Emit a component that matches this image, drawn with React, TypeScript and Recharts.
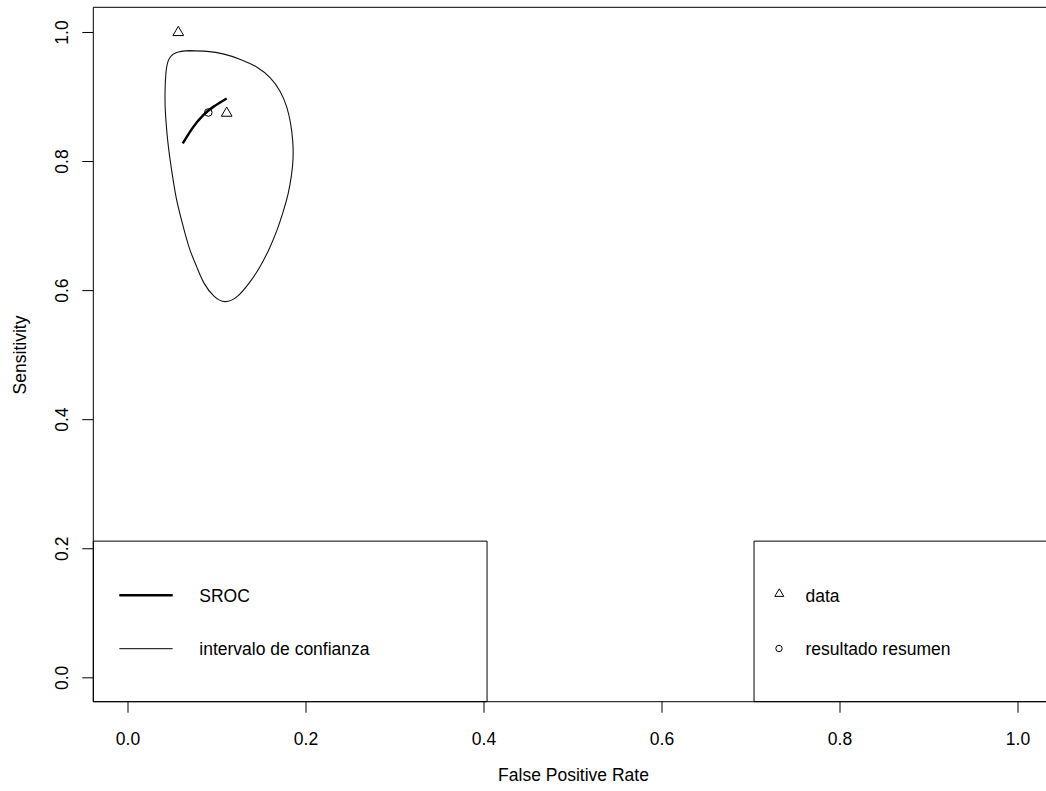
import React from 'react'
import { ScatterChart, Scatter, XAxis, YAxis, ReferenceArea } from 'recharts';

// values
const xTicks = [0, 0.2, 0.4, 0.6, 0.8, 1.0]
const yTicks = [0, 0.2, 0.4, 0.6, 0.8, 1.0]

const studyFpr = [0.0565, 0.1109]
const studySens = [1.0, 0.875]

const summaryFpr = [0.0902]
const summarySens = [0.876]

const srocFpr = [0.0615, 0.0734, 0.0846, 0.0958, 0.1109]
const srocSens = [0.828, 0.8537, 0.8719, 0.8847, 0.8977]

// confidence region contour, traced clockwise from the top
const ellipseFpr = [
    0.0697, 0.0888, 0.1079, 0.127, 0.1449, 0.1596, 0.1708, 0.1783, 0.1826, 0.1851,
    0.1854, 0.1835, 0.1798, 0.1742, 0.1674, 0.159, 0.1483, 0.136, 0.1225, 0.109,
    0.0966, 0.0854, 0.0772, 0.0697, 0.064, 0.059, 0.0547, 0.0511, 0.048, 0.0453,
    0.0433, 0.0419, 0.0416, 0.0425, 0.0455, 0.0539, 0.0697,
]
const ellipseSens = [
    0.9718, 0.9707, 0.9664, 0.9579, 0.9462, 0.93, 0.909, 0.8847, 0.8595, 0.8316,
    0.8037, 0.7773, 0.7495, 0.7216, 0.6937, 0.6658, 0.6371, 0.6116, 0.5906, 0.5829,
    0.5914, 0.6116, 0.6368, 0.6627, 0.689, 0.7154, 0.7401, 0.768, 0.7959, 0.8238,
    0.8517, 0.8796, 0.9075, 0.9354, 0.9571, 0.9687, 0.9718,
]

const toPoints = (xs: number[], ys: number[]) => xs.map((x, i) => ({ x, y: ys[i] }))

const studies = toPoints(studyFpr, studySens)
const summary = toPoints(summaryFpr, summarySens)
const sroc = toPoints(srocFpr, srocSens)
const ellipse = toPoints(ellipseFpr, ellipseSens)

const FONT = '"Liberation Sans", Arial, Helvetica, sans-serif'
const FS = 17.5

const Triangle = (props: any) => {
    const { cx, cy } = props
    return (
        <polygon
            points={`${cx},${cy - 6.2} ${cx + 5.35},${cy + 3.1} ${cx - 5.35},${cy + 3.1}`}
            fill='none' stroke='#000' strokeWidth={1}
        />
    )
}

const Ring = (props: any) => (
    <circle cx={props.cx} cy={props.cy} r={3.8} fill='none' stroke='#000' strokeWidth={1} />
)

const NoDot = () => <g />

const XTick = (props: any) => (
    <text x={props.x} y={props.y} dy='0.71em' textAnchor='middle' fontSize={FS} fontFamily={FONT} fill='#000'>
        {Number(props.payload.value).toFixed(1)}
    </text>
)

const YTick = (props: any) => (
    <text transform={`translate(${props.x},${props.y}) rotate(-90)`} textAnchor='middle' fontSize={FS} fontFamily={FONT} fill='#000'>
        {Number(props.payload.value).toFixed(1)}
    </text>
)

export default function App() {
    return (
        <div style={{ position: 'absolute', left: 0, top: 0, width: 1046, height: 791, overflow: 'hidden', background: '#fff' }}>
            <ScatterChart width={1060} height={791} margin={{ top: 7.3, right: 6.4, bottom: 0, left: 0 }}>
                <XAxis
                    type='number' dataKey='x' domain={[-0.039, 1.04]} ticks={xTicks} allowDataOverflow
                    height={89.3} axisLine={false} tickSize={11} tickMargin={20}
                    tickLine={{ stroke: '#000' }} tick={<XTick />} interval={0}
                />
                <YAxis
                    type='number' dataKey='y' domain={[-0.037, 1.039]} ticks={yTicks} allowDataOverflow
                    width={93.3} axisLine={false} tickSize={11} tickMargin={14.3}
                    tickLine={{ stroke: '#000' }} tick={<YTick />} interval={0}
                />
                <ReferenceArea x1={-0.039} x2={1.04} y1={-0.037} y2={1.039} fill='none' stroke='#000' strokeWidth={1} fillOpacity={0} />
                <ReferenceArea x1={-0.039} x2={0.4034} y1={-0.037} y2={0.2118} fill='#fff' fillOpacity={0} stroke='#000' strokeWidth={1} />
                <ReferenceArea x1={0.7034} x2={1.04} y1={-0.037} y2={0.2118} fill='#fff' fillOpacity={0} stroke='#000' strokeWidth={1} />
                <Scatter data={ellipse} shape={NoDot} line={{ stroke: '#111', strokeWidth: 1.1 }} lineJointType='natural' isAnimationActive={false} />
                <Scatter data={sroc} shape={NoDot} line={{ stroke: '#000', strokeWidth: 2.5 }} lineJointType='natural' isAnimationActive={false} />
                <Scatter data={studies} shape={<Triangle />} isAnimationActive={false} />
                <Scatter data={summary} shape={<Ring />} isAnimationActive={false} />
            </ScatterChart>
            <svg width={1046} height={791} style={{ position: 'absolute', left: 0, top: 0, pointerEvents: 'none' }} fontFamily={FONT} fontSize={FS} fill='#000'>
                <text x={573.5} y={781} textAnchor='middle'>False Positive Rate</text>
                <text transform='translate(26,355) rotate(-90)' textAnchor='middle'>Sensitivity</text>

                <line x1={119.3} x2={172.7} y1={595.3} y2={595.3} stroke='#000' strokeWidth={2.5} />
                <text x={199.3} y={601.7}>SROC</text>
                <line x1={119.3} x2={172.7} y1={648.7} y2={648.7} stroke='#000' strokeWidth={1} />
                <text x={199.3} y={654.8}>intervalo de confianza</text>

                <polygon points='779.3,588.8 783.8,596.4 774.8,596.4' fill='none' stroke='#000' strokeWidth={1} />
                <text x={805.5} y={601.7}>data</text>
                <circle cx={779} cy={648.5} r={3.2} fill='none' stroke='#000' strokeWidth={1} />
                <text x={805.5} y={654.8}>resultado resumen</text>
            </svg>
        </div>
    )
}
